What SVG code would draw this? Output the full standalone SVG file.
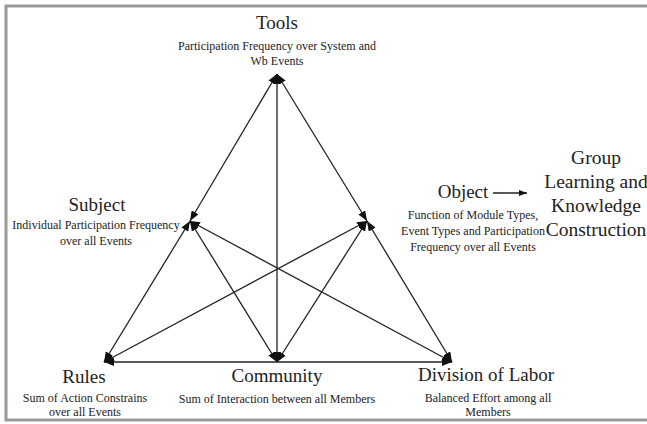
<svg xmlns="http://www.w3.org/2000/svg" width="647" height="424" viewBox="0 0 647 424">
<style>
.h{font-family:"Liberation Serif","Times New Roman",serif;font-size:19px;fill:#222;text-anchor:middle}
.g{font-family:"Liberation Serif","Times New Roman",serif;font-size:19.5px;fill:#222;text-anchor:middle}
.s{font-family:"Liberation Serif","Times New Roman",serif;font-size:12px;fill:#222;text-anchor:middle}
.e{stroke:#222;stroke-width:1.3;fill:none;marker-start:url(#ah);marker-end:url(#ah)}
</style>
<defs>
<marker id="ah" markerUnits="userSpaceOnUse" markerWidth="11" markerHeight="8" refX="10" refY="4" orient="auto-start-reverse">
<path d="M0,0 L10,4 L0,8 z" fill="#111"/>
</marker>
<marker id="sa" markerUnits="userSpaceOnUse" markerWidth="9" markerHeight="6" refX="8" refY="3" orient="auto">
<path d="M0,0 L8,3 L0,6 z" fill="#111"/>
</marker>
</defs>
<rect x="0" y="0" width="647" height="424" fill="#fff"/>
<rect x="6" y="6" width="660" height="414" fill="none" stroke="#9a9a9a" stroke-width="3"/>
<g id="connectors">
<line class="e" x1="277" y1="74" x2="190" y2="221"/>
<line class="e" x1="277" y1="74" x2="367" y2="221"/>
<line class="e" x1="277" y1="74" x2="277" y2="362"/>
<line class="e" x1="190" y1="221" x2="104" y2="362"/>
<line class="e" x1="367" y1="221" x2="452" y2="362"/>
<line class="e" x1="104" y1="362" x2="452" y2="362"/>
<line class="e" x1="190" y1="221" x2="277" y2="362"/>
<line class="e" x1="367" y1="221" x2="277" y2="362"/>
<line class="e" x1="190" y1="221" x2="452" y2="362"/>
<line class="e" x1="367" y1="221" x2="104" y2="362"/>
<line x1="493" y1="193" x2="527" y2="193" stroke="#222" stroke-width="1.3" marker-end="url(#sa)"/>
</g>
<g id="tools">
<text class="h" x="277" y="29">Tools</text>
<text class="s" x="277" y="50">Participation Frequency over System and</text>
<text class="s" x="277" y="65">Wb Events</text>
</g>
<g id="subject">
<text class="h" x="97" y="211">Subject</text>
<text class="s" x="96" y="229">Individual Participation Frequency</text>
<text class="s" x="96" y="245">over all Events</text>
</g>
<g id="object">
<text class="h" x="463" y="198">Object</text>
<text class="s" x="473" y="219">Function of Module Types,</text>
<text class="s" x="473" y="235">Event Types and Participation</text>
<text class="s" x="473" y="251">Frequency over all Events</text>
</g>
<g id="outcome">
<text class="g" x="596" y="164">Group</text>
<text class="g" x="596" y="188">Learning and</text>
<text class="g" x="596" y="212">Knowledge</text>
<text class="g" x="596" y="236">Construction</text>
</g>
<g id="rules">
<text class="h" x="84" y="383">Rules</text>
<text class="s" x="85" y="402">Sum of Action Constrains</text>
<text class="s" x="85" y="416">over all Events</text>
</g>
<g id="community">
<text class="h" x="277" y="382">Community</text>
<text class="s" x="277" y="403">Sum of Interaction between all Members</text>
</g>
<g id="division">
<text class="h" x="486" y="381">Division of Labor</text>
<text class="s" x="488" y="402">Balanced Effort among all</text>
<text class="s" x="488" y="416">Members</text>
</g>
</svg>
